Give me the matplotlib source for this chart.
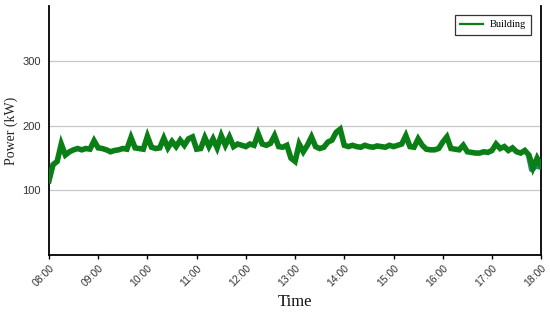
import numpy as np
import matplotlib
matplotlib.use("Agg")
import matplotlib.pyplot as plt

# ------------------------------------------------------------
# data: building power, 5-minute steps from 08:00 to 18:00
# ------------------------------------------------------------
start_hour = 8
step_min = 5

power_kw = [
    115, 140, 145, 172, 155, 160, 163, 165, 163, 165, 164, 177,   # 08
    166, 165, 163, 160, 162, 163, 165, 164, 182, 166, 165, 164,   # 09
    184, 167, 165, 166, 181, 166, 176, 168, 178, 170, 180, 183,   # 10
    164, 165, 182, 168, 180, 166, 185, 170, 183, 168, 172, 170,   # 11
    168, 172, 170, 188, 172, 170, 173, 185, 168, 167, 170, 150,   # 12
    145, 172, 160, 170, 183, 168, 165, 167, 175, 178, 190, 195,   # 13
    170, 168, 170, 168, 167, 170, 168, 167, 169, 168, 167, 170,   # 14
    168, 170, 172, 185, 168, 167, 180, 170, 164, 163, 163, 165,   # 15
    175, 183, 165, 164, 163, 170, 160, 159, 158, 158, 160, 159,   # 16
    162, 172, 165, 168, 162, 166, 160, 158, 162, 155, 135, 150,   # 17
    138,                                                          # 18
]

# short second trace showing underneath at the end of the day
tail_hours = [17.75, 17.80, 17.85, 17.90, 17.95, 18.0]
tail_kw = [150, 132, 134, 140, 136, 140]

tick_hours = list(range(8, 19))
tick_labels = [f"{h:02d}:00" for h in tick_hours]
y_ticks = [100, 200, 300]

hours = start_hour + np.arange(len(power_kw)) * step_min / 60.0

# ------------------------------------------------------------
# plot
# ------------------------------------------------------------
green = "#0a7f16"
serif = ["Liberation Serif", "DejaVu Serif"]

fig = plt.figure(figsize=(5.5, 3.14), dpi=100)
ax = fig.add_axes([0.089, 0.188, 0.895, 0.793])

ax.plot(tail_hours, tail_kw, color="#2a7f86", lw=3.5, zorder=2)
ax.plot(hours, power_kw, color=green, lw=4.0, solid_joinstyle="miter",
        zorder=3, label="Building")

ax.set_xlim(8, 18)
ax.set_ylim(0, 386)
ax.set_xticks(tick_hours)
ax.set_xticklabels(tick_labels, rotation=45, ha="right",
                   rotation_mode="anchor", fontsize=7.5,
                   family="Liberation Sans", color="#333333")
ax.set_yticks(y_ticks)
ax.set_yticklabels([str(v) for v in y_ticks], fontsize=8,
                   family="Liberation Sans", color="#333333")
ax.tick_params(axis="y", length=0, pad=6)
ax.tick_params(axis="x", length=3, width=1, direction="out", pad=3)

ax.grid(axis="y", color="#c8c8c8", lw=0.9)
ax.set_axisbelow(True)

for side in ["left", "bottom", "right"]:
    ax.spines[side].set_linewidth(1.3)
    ax.spines[side].set_color("black")
ax.spines["top"].set_visible(False)

ax.set_ylabel("Power (kW)", fontsize=10, family=serif, color="#222222",
              labelpad=3)
ax.set_xlabel("Time", fontsize=12, family=serif, color="#111111",
              labelpad=4)

leg = ax.legend(loc="upper right", bbox_to_anchor=(0.99, 0.985),
                prop={"family": serif, "size": 7.5}, frameon=True,
                fancybox=False, edgecolor="black", handlelength=2.2,
                borderpad=0.5, handletextpad=0.6)
leg.get_frame().set_linewidth(0.9)
for line in leg.get_lines():
    line.set_linewidth(1.6)

fig.savefig("out.png", dpi=100)
plt.close(fig)
